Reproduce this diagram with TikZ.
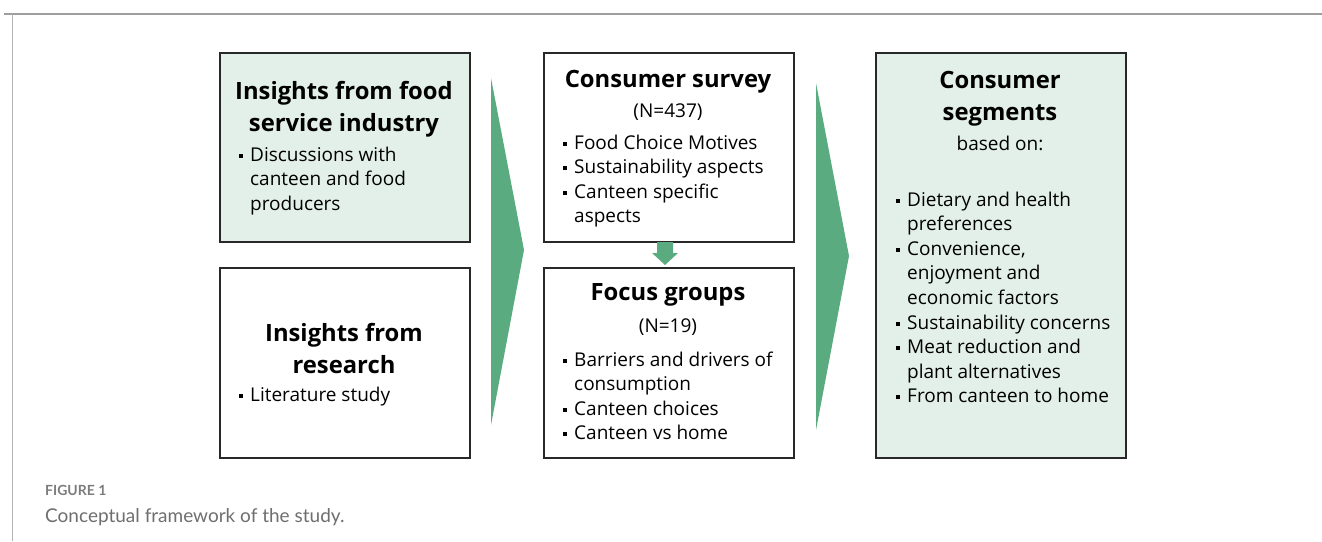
\documentclass[tikz,border=0pt]{standalone}
\usepackage{fontspec}
\setmainfont{Open Sans}
\newfontfamily\capfont{Lato}
\definecolor{agreen}{RGB}{90,171,128}
\definecolor{lgreen}{RGB}{227,240,233}
\definecolor{bord}{RGB}{40,40,40}
\definecolor{capgray}{RGB}{110,110,110}
\newcommand\bl{\rule[3.5pt]{4pt}{4pt}}
\tikzset{
  box/.style={draw=bord, line width=1.8pt, anchor=north west, minimum width=250pt, inner sep=0pt},
  ttl/.style={font=\bfseries\fontsize{23.8}{32}\selectfont, align=center, inner sep=0pt},
  sub/.style={font=\fontsize{19}{24}\selectfont, inner sep=0pt},
  lst/.style={font=\fontsize{19}{24.6}\selectfont, anchor=base west, inner sep=0pt},
  garrow/.style={fill=agreen, draw=none}
}
\begin{document}
\begin{tikzpicture}[x=1pt,y=-1pt]
\useasboundingbox (0,0) rectangle (1322,541);
% frame lines
\draw[draw=gray!75, line width=1.6pt] (4,14) -- (1322,14);
\draw[draw=gray!60, line width=0.8pt] (12,14) -- (12,541);
% boxes
\node[box, fill=lgreen, minimum height=189pt] (A) at (219,52) {};
\node[box, fill=white, minimum height=190pt] (B) at (219,267) {};
\node[box, fill=white, minimum height=189pt] (C) at (543,52) {};
\node[box, fill=white, minimum height=190pt] (D) at (543,267) {};
\node[box, fill=lgreen, minimum width=250pt, minimum height=405pt] (E) at (875,52) {};
% box A
\node[ttl] (At) at (344,109) {Insights from food\\service industry};
\node[lst] (Al) at (239,161) {\begin{tabular}[t]{@{}l@{\hspace{7pt}}l@{}}\bl & Discussions with\\ & canteen and food\\ & producers\end{tabular}};
% box B
\node[ttl] (Bt) at (344,349) {Insights from\\research};
\node[lst] (Bl) at (239,401) {\begin{tabular}[t]{@{}l@{\hspace{7pt}}l@{}}\bl & Literature study\end{tabular}};
% box C
\node[ttl] (Ct) at (668,82) {Consumer survey};
\node[sub] (Cn) at (668,112) {(N=437)};
\node[lst] (Cl) at (563,149) {\begin{tabular}[t]{@{}l@{\hspace{7pt}}l@{}}\bl & Food Choice Motives\\ \bl & Sustainability aspects\\ \bl & Canteen specific\\ & aspects\end{tabular}};
% box D
\node[ttl] (Dt) at (668,295) {Focus groups};
\node[sub] (Dn) at (668,327) {(N=19)};
\node[lst] (Dl) at (563,366) {\begin{tabular}[t]{@{}l@{\hspace{7pt}}l@{}}\bl & Barriers and drivers of\\ & consumption\\ \bl & Canteen choices\\ \bl & Canteen vs home\end{tabular}};
% box E
\node[ttl] (Et) at (1000,99) {Consumer\\segments};
\node[sub] (En) at (1000,143) {based on:};
\node[lst] (El) at (896,206) {\begin{tabular}[t]{@{}l@{\hspace{7pt}}l@{}}\bl & Dietary and health\\ & preferences\\ \bl & Convenience,\\ & enjoyment and\\ & economic factors\\ \bl & Sustainability concerns\\ \bl & Meat reduction and\\ & plant alternatives\\ \bl & From canteen to home\end{tabular}};
% arrows
\fill[garrow] (491,78) -- (524,250) -- (491,425) -- cycle;
\fill[garrow] (816,83) -- (849,256) -- (816,430) -- cycle;
\fill[garrow] (657,242) -- (673,242) -- (673,253) -- (678,253) -- (665,265) -- (652,253) -- (657,253) -- cycle;
% caption
\node[font=\capfont\bfseries\fontsize{14}{16}\selectfont, text=capgray!90, anchor=west, inner sep=0pt] (f1) at (45,490) {FIGURE 1};
\node[font=\capfont\fontsize{19}{22}\selectfont, text=capgray, anchor=west, inner sep=0pt] (f2) at (45,517) {Conceptual framework of the study.};
\end{tikzpicture}
\end{document}
